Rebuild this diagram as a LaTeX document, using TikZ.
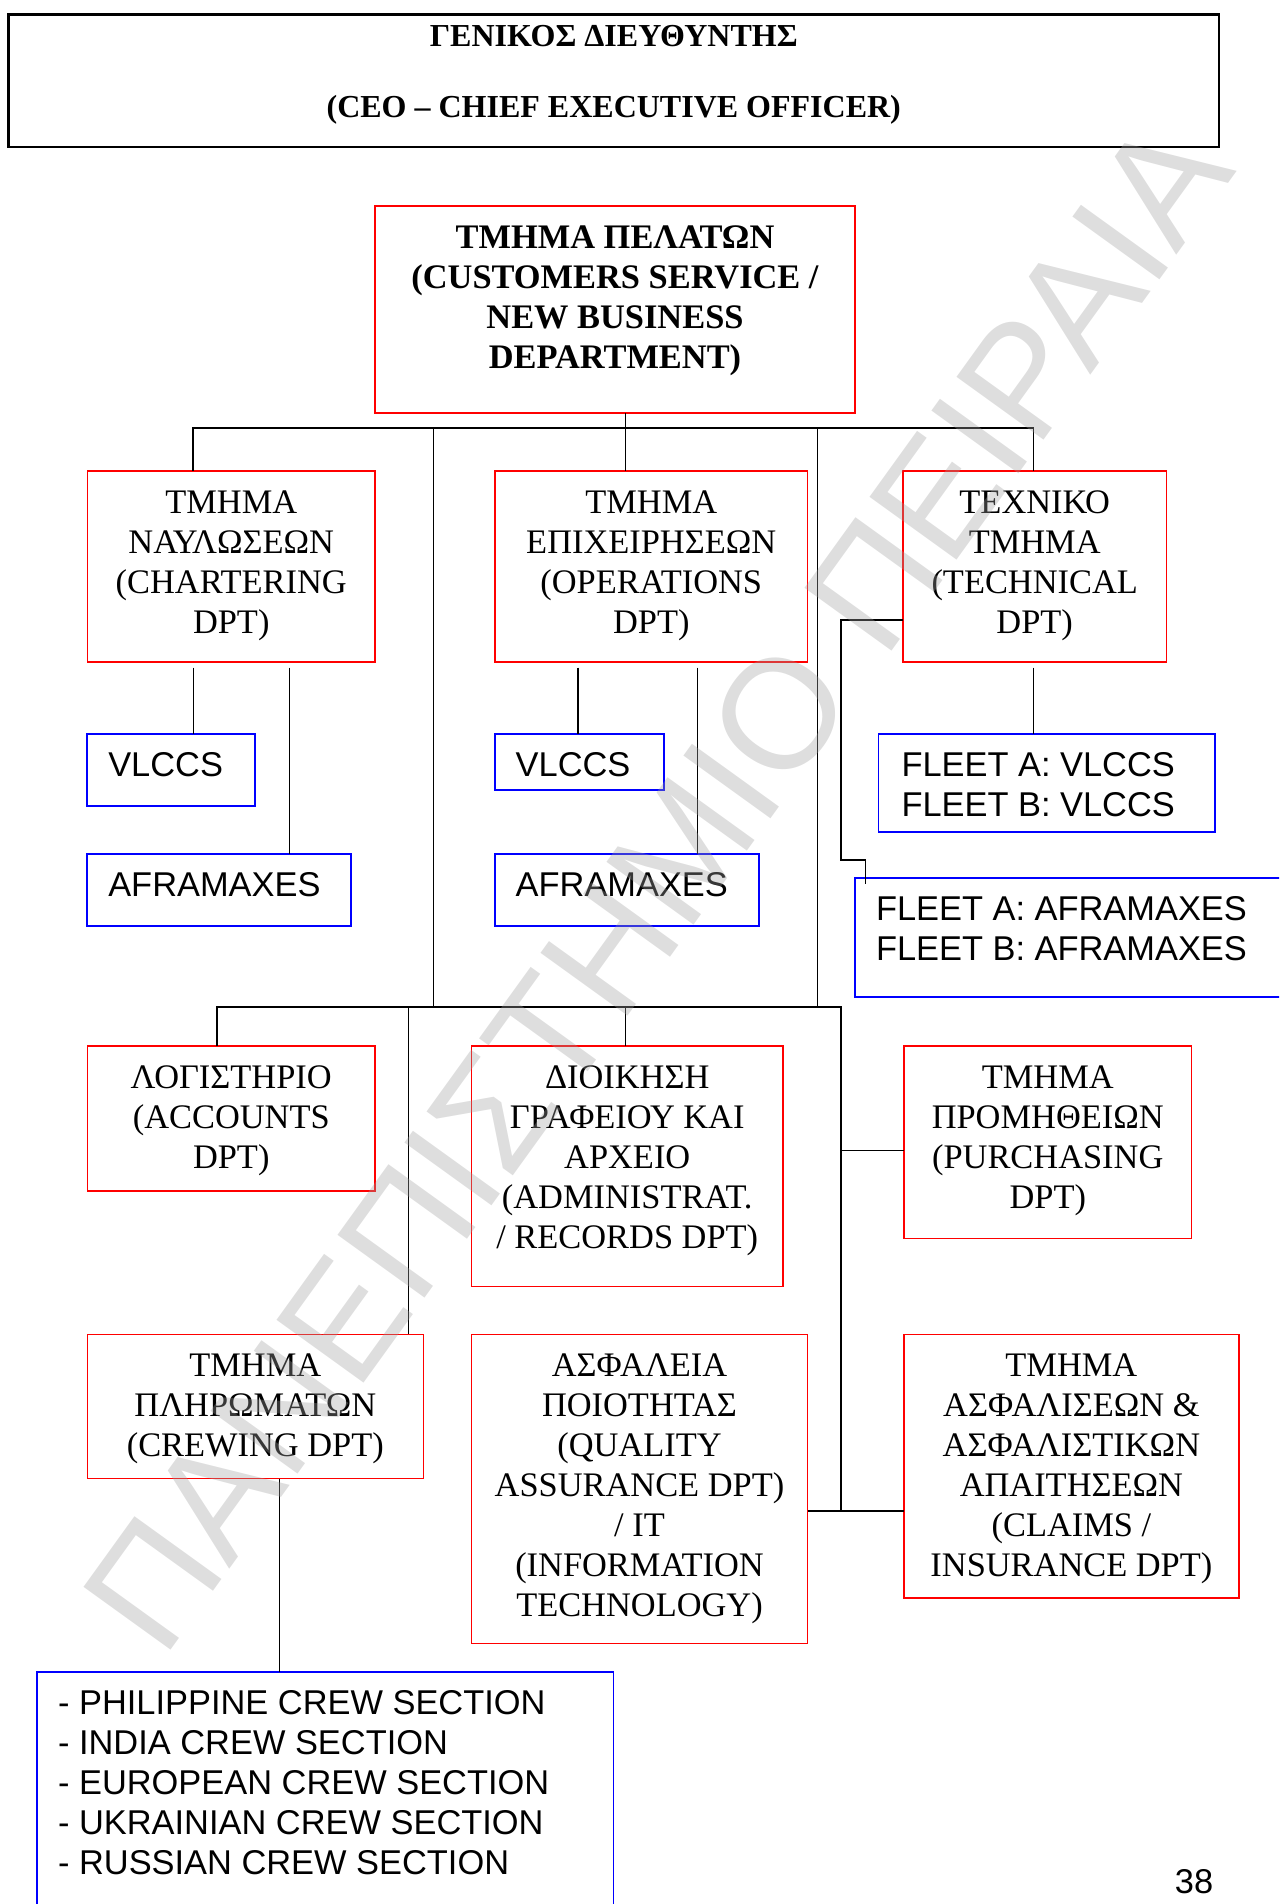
\documentclass[tikz,border=0pt]{standalone}
\usepackage{fontspec}
\setmainfont{Liberation Serif}
\newfontfamily\arialf{Liberation Sans}
\definecolor{wmgray}{RGB}{160,160,160}
\tikzset{
  redbox/.style={draw=red, line width=0.75pt, inner sep=0pt, outer sep=0pt, rectangle},
  bluebox/.style={draw=blue, line width=0.9pt, inner sep=0pt, outer sep=0pt, rectangle},
  ceobox/.style={draw=black, line width=1.1pt, inner sep=0pt, outer sep=0pt, rectangle},
  rtxt/.style={inner sep=0pt, outer sep=0pt, anchor=north, align=center, font=\fontsize{17.2}{20}\selectfont},
  btxt/.style={inner sep=0pt, outer sep=0pt, anchor=north west, align=left, font=\arialf\fontsize{17.2}{20}\selectfont},
  ttxt/.style={inner sep=0pt, outer sep=0pt, anchor=base, font=\bfseries\fontsize{16}{19}\selectfont},
  conn/.style={line width=0.65pt, draw=black},
  busline/.style={line width=0.9pt, draw=black, line join=miter},
}
\begin{document}
\begin{tikzpicture}[x=0.5pt, y=-0.5pt]
\useasboundingbox (0,0) rectangle (1279,1904);
\clip (0,0) rectangle (1279,1904);

% CEO
\node[ceobox, minimum width=605.25pt, minimum height=66.2pt] (ceo) at (613.75,80.8) {};
\node[ttxt] (ceot1) at (613.75,47) {ΓΕΝΙΚΟΣ ΔΙΕΥΘΥΝΤΗΣ};
\node[ttxt] (ceot2) at (613.75,118) {(CEO – CHIEF EXECUTIVE OFFICER)};

% Customers
\node[redbox, minimum width=240pt, minimum height=103.5pt] (cust) at (615,309.5) {};
\node[rtxt, font=\bfseries\fontsize{17.2}{20}\selectfont] (custt) at ([yshift=-7.25pt]cust.north) {\strut ΤΜΗΜΑ ΠΕΛΑΤΩΝ\\(CUSTOMERS SERVICE /\\NEW BUSINESS\\DEPARTMENT)};

% Second row
\node[redbox, minimum width=143.95pt, minimum height=95.5pt] (chart) at (231.25,566.5) {};
\node[rtxt] (chartt) at ([yshift=-7.25pt]chart.north) {\strut ΤΜΗΜΑ\\ΝΑΥΛΩΣΕΩΝ\\(CHARTERING\\DPT)};
\node[redbox, minimum width=156.25pt, minimum height=95.5pt] (ops) at (651.25,566.5) {};
\node[rtxt] (opst) at ([yshift=-7.25pt]ops.north) {\strut ΤΜΗΜΑ\\ΕΠΙΧΕΙΡΗΣΕΩΝ\\(OPERATIONS\\DPT)};
\node[redbox, minimum width=131.7pt, minimum height=95.5pt] (tech) at (1034.7,566.5) {};
\node[rtxt] (techt) at ([yshift=-7.25pt]tech.north) {\strut ΤΕΧΝΙΚΟ\\ΤΜΗΜΑ\\(TECHNICAL\\DPT)};

% Blue boxes
\node[bluebox, minimum width=84pt, minimum height=36.15pt] (cv) at (171.3,770.15) {};
\node[btxt] (cvt) at ([xshift=10.5pt,yshift=-7.25pt]cv.north west) {\strut VLCCS};
\node[bluebox, minimum width=131.7pt, minimum height=36.1pt] (ca) at (219,889.9) {};
\node[btxt] (cat) at ([xshift=10.5pt,yshift=-7.25pt]ca.north west) {\strut AFRAMAXES};
\node[bluebox, minimum width=84.5pt, minimum height=28.15pt] (ov) at (579.2,762.15) {};
\node[btxt] (ovt) at ([xshift=10.5pt,yshift=-7.25pt]ov.north west) {\strut VLCCS};
\node[bluebox, minimum width=132.3pt, minimum height=36pt] (oa) at (627,890.3) {};
\node[btxt] (oat) at ([xshift=10.5pt,yshift=-7.25pt]oa.north west) {\strut AFRAMAXES};
\node[bluebox, minimum width=168.4pt, minimum height=48.8pt] (tv) at (1046.9,782.8) {};
\node[btxt] (tvt) at ([xshift=11.5pt,yshift=-7.25pt]tv.north west) {\strut FLEET A: VLCCS\\FLEET B: VLCCS};
\node[bluebox, minimum width=222.5pt, minimum height=59.5pt] (ta) at (1077.5,937.2) {};
\node[btxt] (tat) at ([xshift=10.5pt,yshift=-7.5pt]ta.north west) {\strut FLEET A: AFRAMAXES\\FLEET B: AFRAMAXES};

% Lower rows
\node[redbox, minimum width=143.95pt, minimum height=72.4pt] (acct) at (231.25,1118.4) {};
\node[rtxt] (acctt) at ([yshift=-7.25pt]acct.north) {\strut ΛΟΓΙΣΤΗΡΙΟ\\(ACCOUNTS\\DPT)};
\node[redbox, minimum width=155.75pt, minimum height=120.15pt] (admin) at (627.25,1166.15) {};
\node[rtxt] (admint) at ([yshift=-7.25pt]admin.north) {\strut ΔΙΟΙΚΗΣΗ\\ΓΡΑΦΕΙΟΥ ΚΑΙ\\ΑΡΧΕΙΟ\\(ADMINISTRAT.\\/ RECORDS DPT)};
\node[redbox, minimum width=143.95pt, minimum height=96.15pt] (purch) at (1047.75,1142.15) {};
\node[rtxt] (purcht) at ([yshift=-7.25pt]purch.north) {\strut ΤΜΗΜΑ\\ΠΡΟΜΗΘΕΙΩΝ\\(PURCHASING\\DPT)};
\node[redbox, minimum width=168pt, minimum height=72.1pt] (crew) at (255.3,1406.4) {};
\node[rtxt] (crewt) at ([yshift=-7.25pt]crew.north) {\strut ΤΜΗΜΑ\\ΠΛΗΡΩΜΑΤΩΝ\\(CREWING DPT)};
\node[redbox, minimum width=168pt, minimum height=154.55pt] (qa) at (639.5,1488.85) {};
\node[rtxt] (qat) at ([yshift=-7.25pt]qa.north) {\strut ΑΣΦΑΛΕΙΑ\\ΠΟΙΟΤΗΤΑΣ\\(QUALITY\\ASSURANCE DPT)\\/ IT\\(INFORMATION\\TECHNOLOGY)};
\node[redbox, minimum width=167.6pt, minimum height=131.95pt] (claims) at (1071.4,1466.25) {};
\node[rtxt] (claimst) at ([yshift=-7.25pt]claims.north) {\strut ΤΜΗΜΑ\\ΑΣΦΑΛΙΣΕΩΝ \&\\ΑΣΦΑΛΙΣΤΙΚΩΝ\\ΑΠΑΙΤΗΣΕΩΝ\\(CLAIMS /\\INSURANCE DPT)};

\node[bluebox, minimum width=288.35pt, minimum height=139.15pt] (crewsec) at (325.05,1810.85) {};
\node[btxt] (crewsect) at ([xshift=10.7pt,yshift=-7.5pt]crewsec.north west) {\strut - PHILIPPINE CREW SECTION\\- INDIA CREW SECTION\\- EUROPEAN CREW SECTION\\- UKRAINIAN CREW SECTION\\- RUSSIAN CREW SECTION};

\node[inner sep=0pt, anchor=base, font=\arialf\fontsize{17.2}{20}\selectfont] (pgnum) at (1194,1893) {38};

% Connector coordinates
\coordinate (tbL) at (193.3,428);
\coordinate (tbC) at (625.6,428);
\coordinate (tbR) at (1033.5,428);
\coordinate (v1t) at (433.5,428);
\coordinate (v2t) at (817.5,428);
\coordinate (lbL) at (217,1007.3);
\coordinate (lbA) at (408.6,1007.3);
\coordinate (lbC) at (625.6,1007.3);
\coordinate (lbR) at (841,1007.3);
\coordinate (v1b) at (433.5,1007.3);
\coordinate (v2b) at (817.5,1007.3);
\coordinate (j1) at (841,1150.8);
\coordinate (j2) at (841,1511);
\coordinate (c1) at (193.3,667.6);
\coordinate (c2) at (289.6,667.6);
\coordinate (o1) at (578,667.6);
\coordinate (o2) at (697.3,667.6);
\coordinate (t1) at (1033.5,667.6);
\coordinate (tw) at (841,620);
\coordinate (tk1) at (841,860);
\coordinate (tk2) at (865.7,860);
\coordinate (tk3) at (865.7,884);
\coordinate (cl) at (279.3,1478.5);

% Top bus
\draw[busline] (tbL |- chart.north) -- (tbL) -- (tbR) -- (tbR |- tech.north);
\draw[conn] (tbC |- cust.south) -- (tbC) -- (tbC |- ops.north);
\draw[conn] (v1t) -- (v1b);
\draw[conn] (v2t) -- (v2b);

% Sub-connectors
\draw[conn] (c1) -- (c1 |- cv.north);
\draw[conn] (c2) -- (c2 |- ca.north);
\draw[conn] (o1) -- (o1 |- ov.north);
\draw[conn] (o2) -- (o2 |- oa.north);
\draw[conn] (t1) -- (t1 |- tv.north);
\draw[conn] (tech.west |- tw) -- (tw) -- (tk1) -- (tk2) -- (tk3);

% Lower bus
\draw[busline] (lbL |- acct.north) -- (lbL) -- (lbR) -- (j2);
\draw[conn] (lbA) -- (lbA |- crew.north);
\draw[conn] (lbC) -- (lbC |- admin.north);
\draw[conn] (j1) -- (purch.west |- j1);
\draw[busline] (qa.east |- j2) -- (claims.west |- j2);
\draw[conn] (cl |- crew.south) -- (cl |- crewsec.north);

% Watermark
\node[inner sep=0pt, font=\arialf\fontsize{78}{78}\selectfont, text=wmgray, text opacity=0.35, rotate=54.2] (wm) at (657,884.5) {ΠΑΝΕΠΙΣΤΗΜΙΟ ΠΕΙΡΑΙΑ};
\end{tikzpicture}
\end{document}
